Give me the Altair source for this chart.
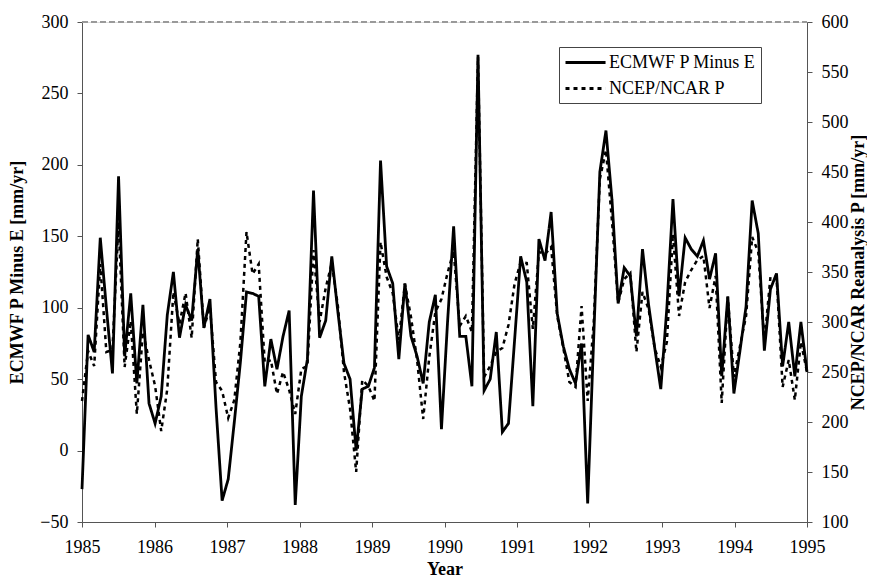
import altair as alt
import pandas as pd

# ECMWF P minus E (left axis, mm/yr), monthly 1985-1994
ecmwf = [-27, 81, 69, 149, 100, 54, 192, 66, 110, 47, 102, 33,
         19, 38, 95, 125, 79, 102, 91, 141, 86, 106, 30, -35,
         -20, 20, 62, 111, 110, 108, 45, 78, 57, 80, 98, -38,
         38, 64, 182, 79, 91, 136, 97, 61, 50, 0, 43, 45,
         58, 203, 129, 117, 64, 117, 80, 66, 47, 90, 109, 15,
         90, 157, 80, 80, 45, 277, 42, 50, 83, 13, 19, 77,
         136, 118, 31, 148, 133, 167, 96, 73, 57, 47, 75, -37,
         80, 195, 224, 175, 103, 128, 122, 80, 141, 102, 72, 43,
         100, 176, 108, 149, 141, 136, 147, 120, 138, 52, 108, 40,
         70, 101, 175, 152, 70, 113, 124, 59, 90, 52, 90, 55]

# NCEP/NCAR reanalysis P (right axis, mm/yr)
ncep = [221, 271, 256, 358, 270, 272, 400, 255, 301, 208, 290, 262,
        236, 191, 233, 330, 298, 329, 284, 383, 294, 315, 240, 231,
        204, 222, 280, 390, 348, 358, 259, 262, 228, 250, 232, 208,
        253, 256, 372, 300, 334, 359, 316, 250, 213, 150, 242, 236,
        221, 380, 345, 329, 282, 338, 305, 262, 203, 265, 310, 323,
        349, 371, 296, 306, 290, 565, 245, 256, 270, 274, 297, 338,
        360, 359, 293, 370, 368, 375, 306, 274, 240, 235, 316, 221,
        300, 443, 472, 400, 319, 343, 349, 270, 330, 313, 274, 255,
        280, 388, 306, 340, 352, 362, 366, 314, 346, 219, 325, 245,
        276, 306, 385, 370, 280, 345, 345, 235, 262, 222, 280, 250]

series_names = ["ECMWF P Minus E", "NCEP/NCAR P"]
year_ticks = list(range(1985, 1996))
left_ticks = list(range(-50, 301, 50))
right_ticks = list(range(100, 601, 50))

n = len(ecmwf)
years = [1985 + i * 10 / (n - 1) for i in range(n)]

df = pd.DataFrame({
    "year": years + years,
    "value": ecmwf + ncep,
    "series": [series_names[0]] * n + [series_names[1]] * n,
})

FONT = "Liberation Serif"
AX = "#555555"

dash = alt.StrokeDash(
    "series:N",
    scale=alt.Scale(domain=series_names, range=[[1, 0], [4, 4]]),
    legend=alt.Legend(
        title=None, orient="none", legendX=477, legendY=25,
        symbolType="M-1,0H3.45", symbolSize=324, symbolStrokeWidth=3,
        symbolStrokeColor="black", symbolFillColor="transparent",
        labelFont=FONT, labelFontSize=18, labelColor="black", labelOffset=24,
        strokeColor="#444444", fillColor="white", padding=5, rowPadding=6,
    ),
)

x_enc = alt.X(
    "year:Q",
    scale=alt.Scale(domain=[1985, 1995], nice=False, zero=False),
    axis=alt.Axis(
        values=year_ticks, format="d", title="Year", grid=False,
        labelFont=FONT, labelFontSize=18, labelColor="black", labelFlush=False,
        tickSize=5, labelPadding=11, tickColor=AX, domainColor=AX,
        titleFont=FONT, titleFontSize=18, titleFontWeight="bold", titleColor="black",
        titleX=362.5, titleY=47, titleBaseline="middle", titleAlign="center",
    ),
)

left = (
    alt.Chart(df)
    .transform_filter(alt.datum.series == series_names[0])
    .mark_line(color="black", strokeWidth=2.8)
    .encode(
        x=x_enc,
        y=alt.Y(
            "value:Q",
            scale=alt.Scale(domain=[-50, 300], nice=False, zero=False),
            axis=alt.Axis(
                values=left_ticks, title="ECMWF P Minus E [mm/yr]", grid=False,
                labelFont=FONT, labelFontSize=18, labelColor="black",
                tickSize=5, labelPadding=9, tickColor=AX, domainColor=AX,
                titleFont=FONT, titleFontSize=18, titleFontWeight="bold", titleColor="black",
                titleAngle=270, titleX=-65, titleY=250,
                titleBaseline="middle", titleAlign="center",
            ),
        ),
        strokeDash=dash,
    )
)

right = (
    alt.Chart(df)
    .transform_filter(alt.datum.series == series_names[1])
    .mark_line(color="black", strokeWidth=2.5)
    .encode(
        x=x_enc,
        y=alt.Y(
            "value:Q",
            scale=alt.Scale(domain=[100, 600], nice=False, zero=False),
            axis=alt.Axis(
                orient="right", values=right_ticks,
                title="NCEP/NCAR Reanalysis P [mm/yr]", grid=False,
                labelFont=FONT, labelFontSize=18, labelColor="black",
                tickSize=5, labelPadding=9, tickColor=AX, domainColor=AX,
                titleFont=FONT, titleFontSize=18, titleFontWeight="bold", titleColor="black",
                titleAngle=270, titleX=51, titleY=250,
                titleBaseline="middle", titleAlign="center",
            ),
        ),
        strokeDash=dash,
    )
)

top_border = (
    alt.Chart(df)
    .mark_rule(color="#999999", strokeWidth=1, strokeDash=[6, 3])
    .encode(x=alt.value(0), x2=alt.value(725), y=alt.value(0))
)

chart = (
    alt.layer(top_border, left, right)
    .resolve_scale(y="independent", strokeDash="shared")
    .properties(
        width=725, height=500,
        autosize=alt.AutoSizeParams(type="none"),
        padding={"left": 74, "top": 14, "right": 60, "bottom": 58},
    )
    .configure_view(strokeWidth=0)
    .configure(background="white")
)

chart.save("out.html", embed_options={"renderer": "svg", "actions": False})
